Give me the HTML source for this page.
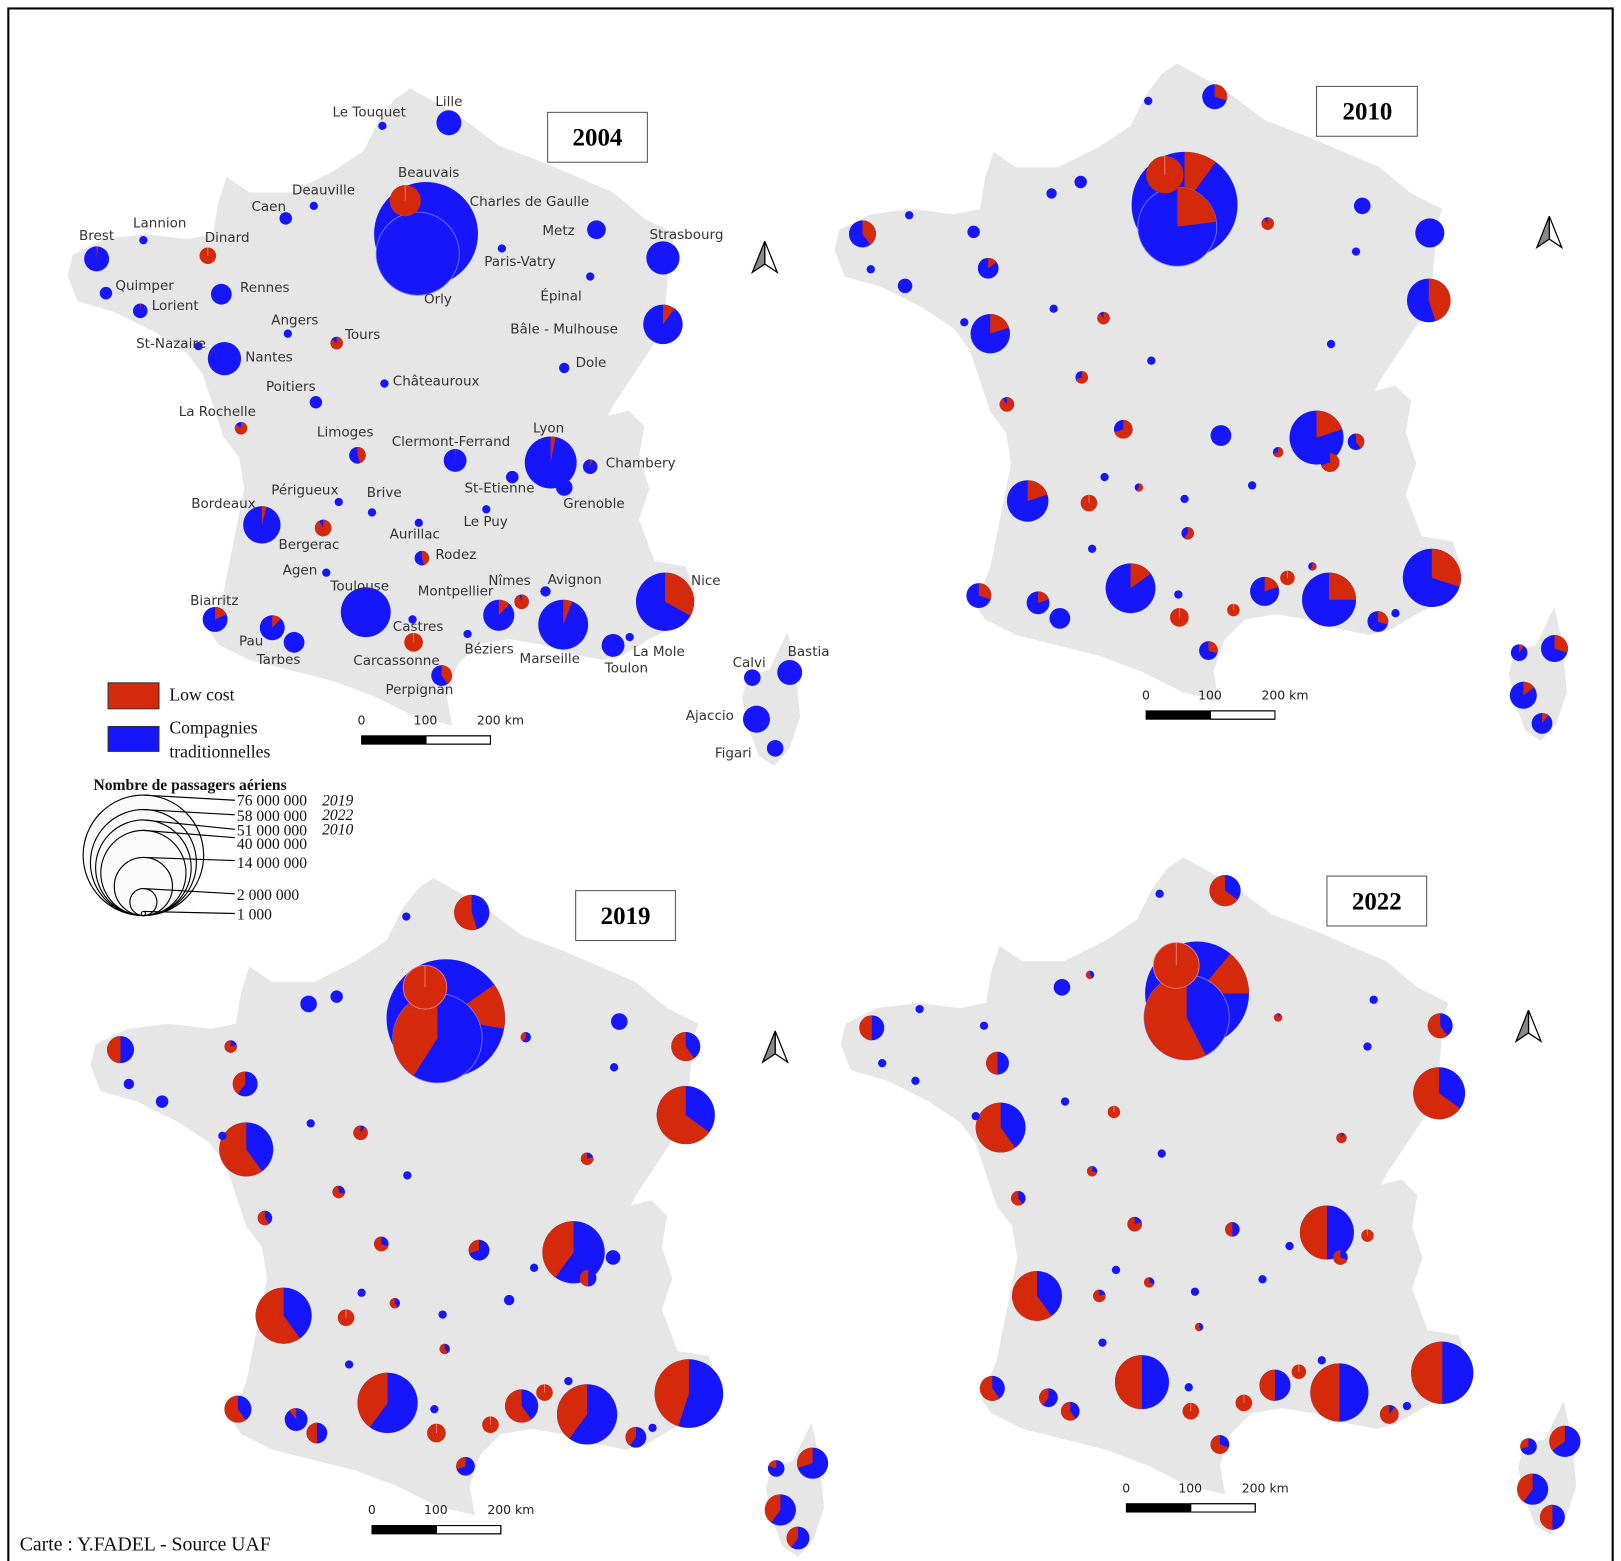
<!DOCTYPE html>
<html><head><meta charset="utf-8">
<style>
html,body{margin:0;padding:0;background:#fff;}
svg{display:block;}
.c{font-family:"DejaVu Sans","Liberation Sans",sans-serif;font-size:13px;fill:#333;}
.s{font-family:"Liberation Serif",serif;}
</style></head>
<body>
<svg id="m" width="1621" height="1561" viewBox="0 0 1560 1502" xmlns="http://www.w3.org/2000/svg">
<rect x="0" y="0" width="1560" height="1502" fill="#fff"/>
<defs>
<path id="fr" fill="#e6e6e6" d="M395,85 L440,110 480,140 520,155 555,170 590,185 620,210 650,225 645,240 640,300 630,330 610,360 590,390 585,400 605,395 620,410 615,440 625,470 615,500 630,540 660,545 670,575 665,595 625,615 600,630 580,635 545,628 520,620 490,615 460,620 440,640 430,670 435,698 400,690 360,670 320,655 280,645 240,635 210,620 200,605 215,570 225,520 235,470 230,440 215,420 205,390 195,360 180,340 150,320 110,300 75,290 65,265 70,245 100,230 140,225 180,230 205,225 210,195 218,170 240,185 280,185 320,165 350,145 365,115 380,95 Z"/>
<path id="co" fill="#e6e6e6" d="M758,608 L765,640 770,690 760,720 745,737 730,727 720,700 714,672 720,650 740,645 752,620 Z"/>
<g id="arrow"><path d="M0,0 L12,30 L0,22 Z" fill="#fff" stroke="#000" stroke-width="1.2"/><path d="M0,0 L-12,30 L0,22 Z" fill="#888" stroke="#000" stroke-width="1.2"/></g>
</defs>
<rect x="8" y="8" width="1544" height="1496" fill="none" stroke="#000" stroke-width="2"/>
<use href="#fr"/><use href="#co"/>
<use href="#fr" transform="translate(738,-24)"/><use href="#co" transform="translate(738,-24)"/>
<use href="#fr" transform="translate(22,760)"/><use href="#co" transform="translate(23,761)"/>
<use href="#fr" transform="translate(744,740)"/><use href="#co" transform="translate(747,740)"/>
<g id="pies"></g>
<use href="#arrow" transform="translate(736,232)"/>
<use href="#arrow" transform="translate(1491,208)"/>
<use href="#arrow" transform="translate(746,992)"/>
<use href="#arrow" transform="translate(1471,972)"/>
<g class="s" font-weight="bold" font-size="24" text-anchor="middle">
<rect x="527" y="108" width="96" height="48" fill="#fff" stroke="#555"/><text x="575" y="140">2004</text>
<rect x="1267" y="83" width="97" height="48" fill="#fff" stroke="#555"/><text x="1316" y="115">2010</text>
<rect x="554" y="857" width="96" height="48" fill="#fff" stroke="#555"/><text x="602" y="889">2019</text>
<rect x="1277" y="843" width="96" height="48" fill="#fff" stroke="#555"/><text x="1325" y="875">2022</text>
</g>
<g font-family="DejaVu Sans,sans-serif" font-size="12" fill="#222">
<g transform="translate(348,708)"><rect x="0" y="0" width="62" height="8" fill="#000"/><rect x="62" y="0" width="62" height="8" fill="#fff" stroke="#000"/><rect x="0" y="0" width="124" height="8" fill="none" stroke="#000"/><text x="-4" y="-11">0</text><text x="50" y="-11">100</text><text x="111" y="-11">200 km</text></g>
<g transform="translate(1103,684)"><rect x="0" y="0" width="62" height="8" fill="#000"/><rect x="62" y="0" width="62" height="8" fill="#fff" stroke="#000"/><rect x="0" y="0" width="124" height="8" fill="none" stroke="#000"/><text x="-4" y="-11">0</text><text x="50" y="-11">100</text><text x="111" y="-11">200 km</text></g>
<g transform="translate(358,1468)"><rect x="0" y="0" width="62" height="8" fill="#000"/><rect x="62" y="0" width="62" height="8" fill="#fff" stroke="#000"/><rect x="0" y="0" width="124" height="8" fill="none" stroke="#000"/><text x="-4" y="-11">0</text><text x="50" y="-11">100</text><text x="111" y="-11">200 km</text></g>
<g transform="translate(1084,1447)"><rect x="0" y="0" width="62" height="8" fill="#000"/><rect x="62" y="0" width="62" height="8" fill="#fff" stroke="#000"/><rect x="0" y="0" width="124" height="8" fill="none" stroke="#000"/><text x="-4" y="-11">0</text><text x="50" y="-11">100</text><text x="111" y="-11">200 km</text></g>
</g>
<rect x="104" y="657" width="49" height="25" fill="#d42a0b" stroke="#333"/>
<rect x="104" y="699" width="49" height="24" fill="#1616fa" stroke="#333"/>
<g class="s" font-size="17" fill="#111">
<text x="163" y="674">Low cost</text><text x="163" y="706">Compagnies</text><text x="163" y="729">traditionnelles</text>
</g>
<g fill="#fafafa" stroke="#000" stroke-width="1.1">
<circle cx="138" cy="823" r="58"/><circle cx="138" cy="830" r="51"/><circle cx="138" cy="835" r="46"/><circle cx="138" cy="840" r="41"/><circle cx="138" cy="853" r="28"/><circle cx="138" cy="868" r="13"/><circle cx="138" cy="879" r="2"/>
</g>
<g stroke="#000" stroke-width="1.1">
<line x1="138" y1="765" x2="226" y2="770"/><line x1="138" y1="779" x2="226" y2="784"/><line x1="138" y1="789" x2="226" y2="798"/><line x1="138" y1="799" x2="226" y2="806"/><line x1="138" y1="825" x2="226" y2="828"/><line x1="138" y1="855" x2="226" y2="860"/><line x1="138" y1="877" x2="226" y2="879"/>
</g>
<g class="s" font-size="15" fill="#111">
<text x="90" y="760" font-weight="bold">Nombre de passagers aériens</text>
<text x="228" y="775">76 000 000</text><text x="228" y="790">58 000 000</text><text x="228" y="804">51 000 000</text><text x="228" y="817">40 000 000</text><text x="228" y="835">14 000 000</text><text x="228" y="866">2 000 000</text><text x="228" y="885">1 000</text>
<text x="310" y="775" font-style="italic">2019</text><text x="310" y="789" font-style="italic">2022</text><text x="310" y="803" font-style="italic">2010</text>
<text x="19" y="1492" font-size="19">Carte : Y.FADEL - Source UAF</text>
</g>
<g class="c">
<text x="320" y="112">Le Touquet</text><text x="419" y="102">Lille</text><text x="383" y="170">Beauvais</text><text x="281" y="187">Deauville</text><text x="242" y="203">Caen</text><text x="452" y="198">Charles de Gaulle</text><text x="522" y="226">Metz</text><text x="625" y="230">Strasbourg</text><text x="128" y="219">Lannion</text><text x="76" y="231">Brest</text><text x="197" y="233">Dinard</text><text x="466" y="256">Paris-Vatry</text><text x="111" y="279">Quimper</text><text x="231" y="281">Rennes</text><text x="146" y="298">Lorient</text><text x="408" y="292">Orly</text><text x="520" y="289">Épinal</text><text x="261" y="312">Angers</text><text x="332" y="326">Tours</text><text x="491" y="321">Bâle - Mulhouse</text><text x="131" y="335">St-Nazaire</text><text x="236" y="348">Nantes</text><text x="554" y="353">Dole</text><text x="378" y="371">Châteauroux</text><text x="256" y="376">Poitiers</text><text x="172" y="400">La Rochelle</text><text x="305" y="420">Limoges</text><text x="513" y="416">Lyon</text><text x="377" y="429">Clermont-Ferrand</text><text x="583" y="450">Chambery</text><text x="447" y="474">St-Etienne</text><text x="261" y="476">Périgueux</text><text x="353" y="478">Brive</text><text x="542" y="489">Grenoble</text><text x="184" y="489">Bordeaux</text><text x="446" y="506">Le Puy</text><text x="375" y="518">Aurillac</text><text x="268" y="528">Bergerac</text><text x="419" y="538">Rodez</text><text x="272" y="553">Agen</text><text x="470" y="563">Nîmes</text><text x="527" y="562">Avignon</text><text x="665" y="563">Nice</text><text x="318" y="568">Toulouse</text><text x="402" y="573">Montpellier</text><text x="183" y="582">Biarritz</text><text x="378" y="607">Castres</text><text x="230" y="621">Pau</text><text x="447" y="629">Béziers</text><text x="500" y="638">Marseille</text><text x="609" y="631">La Mole</text><text x="582" y="647">Toulon</text><text x="247" y="639">Tarbes</text><text x="340" y="640">Carcassonne</text><text x="371" y="668">Perpignan</text><text x="705" y="642">Calvi</text><text x="758" y="631">Bastia</text><text x="660" y="693">Ajaccio</text><text x="688" y="729">Figari</text>
</g>
<script>
var R="#d42a0b",B="#1616fa";
var g=document.getElementById("pies"),NS="http://www.w3.org/2000/svg";
function el(t,a){var e=document.createElementNS(NS,t);for(var k in a)e.setAttribute(k,a[k]);g.appendChild(e);return e;}
function wedge(x,y,r,a0,a1){
 var t0=a0*Math.PI/180,t1=a1*Math.PI/180;
 var sx=x+r*Math.sin(t0),sy=y-r*Math.cos(t0),ex=x+r*Math.sin(t1),ey=y-r*Math.cos(t1);
 el("path",{d:"M"+x+","+y+"L"+sx+","+sy+"A"+r+","+r+" 0 "+((a1-a0)>180?1:0)+" 1 "+ex+","+ey+"Z",fill:R});
}
function p(x,y,r,f,d,st){
 f=f||0;
 if(f>=0.97){el("circle",{cx:x,cy:y,r:r,fill:R,stroke:st||"none","stroke-width":0.8});el("line",{x1:x,y1:y,x2:x,y2:y-r,stroke:"#e88","stroke-width":0.8});return;}
 el("circle",{cx:x,cy:y,r:r,fill:B,stroke:st||"none","stroke-width":0.8});
 if(f<=0.005)return;
 if(d>0)wedge(x,y,r,0,f*360);else wedge(x,y,r,360-f*360,360);
}
var P04=[[432,118,12],[368,121,4],[410,225,50],[402,244,40,0,"#7a7aff"],[390,193,15,0.98],[302,198,4],[275,210,6],[138,231,4],[93,249,12,0.02],[200,246,8,0.97],[102,282,6],[135,299,7,0.02],[213,283,10],[277,321,4],[324,330,6,0.85],[191,333,4],[216,345,16],[304,387,6],[370,369,4],[232,412,6,0.85],[344,438,8,0.45],[438,443,11,0.01],[530,445,25,0.03],[568,449,7,0.05],[493,459,6],[543,469,8],[574,221,9],[483,239,4],[568,266,4],[638,248,16],[638,312,19,0.1],[543,354,5],[252,505,18,0.04],[326,483,4],[358,493,4],[403,503,4],[468,490,4],[311,508,8,0.92],[406,537,7,0.45],[314,551,4],[352,589,24],[397,596,4],[398,618,9,0.98],[425,650,10,0.4],[450,610,4],[480,592,15,0.12],[502,579,7,0.95],[525,569,5],[542,601,24,0.06],[590,621,11],[606,613,4],[640,579,28,0.33],[207,596,12,0.18],[262,604,12,0.12],[283,618,10],[724,652,8],[760,647,12],[728,692,13],[746,720,8]];
var P10=[[1169,93,12,0.3],[1105,97,4],[1140,197,51,0.1],[1133,218,38,0.23,"#7a7aff"],[1121,168,18,0.98],[1040,175,6],[1012,186,5],[875,207,4],[937,223,6],[830,225,13,0.4],[951,258,10,0.15],[838,259,4],[871,275,7],[1014,297,4],[928,310,4],[953,321,19,0.2],[1062,306,6,0.9],[1108,347,4],[1041,363,6,0.7],[969,389,7,0.9],[1081,413,9,0.7],[1220,215,6,0.9],[1311,198,8],[1376,224,14],[1305,242,4],[1375,289,21,0.45],[1281,331,4],[1175,419,10],[1267,421,26,0.2],[1230,435,5,0.7],[1305,425,8,0.4],[1280,445,9,0.7],[1205,467,4],[1063,459,4],[1096,469,4,0.6],[1140,480,4],[989,482,20,0.2],[1048,484,8,0.98],[1143,513,6,0.6],[1051,528,4],[1088,566,24,0.15],[1134,572,4],[1135,594,9,0.98],[1217,569,14,0.2],[1239,556,7,0.98],[1263,545,4,0.6],[1279,577,26,0.25],[1187,587,6,0.98],[942,573,12,0.3],[999,580,11,0.2],[1020,595,10],[1326,598,10,0.3],[1343,590,4],[1378,556,28,0.3],[1163,626,9,0.3],[1462,628,8,0.1],[1496,624,13,0.3],[1466,669,13,0.15],[1484,696,10,0.1]];
var P19=[[391,882,4],[454,878,17,0.55],[222,1007,6,0.8],[116,1010,13,0.5],[124,1043,5],[156,1060,6],[236,1043,12,0.4],[297,966,8],[324,959,6],[506,998,5,0.4],[596,983,8],[660,1007,14,0.6],[591,1027,4],[660,1073,28,0.65],[299,1081,4],[347,1090,7,0.9],[237,1106,26,0.6],[214,1093,4],[565,1115,6,0.8],[392,1131,4],[326,1147,6,0.7],[255,1172,7,0.6],[367,1197,7,0.7],[461,1203,10,0.3],[552,1205,30,0.4],[590,1210,7],[566,1230,8,0.5],[514,1220,4],[348,1244,4],[380,1254,5,0.6],[426,1265,4],[490,1251,5],[273,1266,27,0.6],[333,1268,8,0.98],[428,1298,5,0.6],[336,1313,4],[373,1350,29,0.4],[418,1356,4],[229,1356,13,0.6],[285,1366,11,0.1],[305,1379,10,0.5],[420,1379,9,0.98],[472,1371,8,0.98],[502,1353,16,0.6],[524,1340,8,0.98],[547,1329,4],[565,1361,29,0.4],[612,1383,10,0.4],[628,1374,4],[663,1341,33,0.45],[448,1411,9,0.3],[747,1413,8,0.2],[782,1408,15,0.3],[751,1453,15,0.4],[768,1480,11,0.4]];
var P22=[[1116,860,4],[1179,857,15,0.65],[1022,950,8],[1049,938,4,0.6],[1230,979,4,0.9],[1322,962,4],[1386,987,12,0.6],[1316,1007,4],[885,971,4],[947,987,4],[839,989,12,0.5],[849,1023,4],[960,1023,11,0.5],[881,1040,4],[1025,1060,4],[1072,1070,6,0.98],[963,1085,24,0.6],[939,1074,4],[1385,1052,25,0.65],[1118,1110,4],[1291,1095,5,0.9],[1051,1127,5,0.7],[980,1153,7,0.6],[1092,1178,7,0.8],[1186,1183,7,0.5],[1277,1186,26,0.5],[1316,1189,6,0.98],[1290,1210,7,0.7],[1241,1199,4],[1074,1222,4],[1106,1234,5,0.7],[1215,1231,4],[1058,1247,6,0.8],[1150,1243,4],[998,1247,24,0.6],[1154,1277,4,0.6],[1061,1292,4],[1099,1330,26,0.5],[1144,1335,4],[1146,1358,8,0.98],[1197,1350,8,0.98],[1227,1333,15,0.5],[1250,1320,7,0.98],[1272,1309,4],[1289,1340,28,0.5],[1337,1361,9,0.9],[1354,1353,4],[1388,1321,30,0.5],[955,1336,12,0.6],[1009,1345,9,0.4],[1030,1358,9,0.6],[1174,1390,9,0.7],[1471,1392,8,0.3],[1506,1387,15,0.35],[1475,1433,15,0.4],[1494,1460,12,0.5]];
P04.forEach(function(a){p(a[0],a[1],a[2],a[3],1,a[4]);});
P10.forEach(function(a){p(a[0],a[1],a[2],a[3],1,a[4]);});
// 2019 Paris group
el("circle",{cx:429,cy:980,r:57,fill:B});wedge(429,980,57,55,100);
p(421,999,43,0.41,-1,"#7a7aff");
p(409,950,21,0.98,1,"#e88");
// 2022 Paris group
el("circle",{cx:1152,cy:956,r:50,fill:B});wedge(1152,956,50,40,90);
p(1142,979,41,0.575,-1,"#7a7aff");
p(1132,929,22,0.98,1,"#e88");
P19.forEach(function(a){p(a[0],a[1],a[2],a[3],-1,a[4]);});
P22.forEach(function(a){p(a[0],a[1],a[2],a[3],-1,a[4]);});
</script>
</svg>
</body></html>
